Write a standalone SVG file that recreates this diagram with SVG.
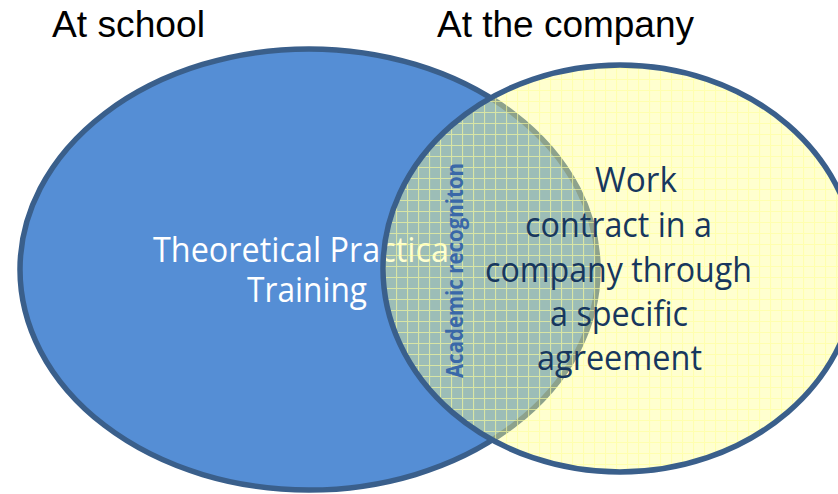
<svg xmlns="http://www.w3.org/2000/svg" width="838" height="494" viewBox="0 0 838 494">
  <defs>
    <pattern id="smallGrid" width="11" height="11" patternUnits="userSpaceOnUse" x="0" y="2">
      <rect width="11" height="11" fill="#FFFF8C" fill-opacity="0.42"/>
      <path d="M0 0.5 H11 M0.5 0 V11" stroke="#FFFF99" stroke-opacity="0.6" stroke-width="1.2" fill="none"/>
    </pattern>
  </defs>
  <style>
    .title { font-family: "Liberation Sans", Arial, sans-serif; font-size: 37px; fill: #000000; }
    .body { font-family: "Open Sans", "Noto Sans", sans-serif; font-size: 34px; }
    .ring { stroke: #3A5F8B; stroke-width: 5.5; }
  </style>
  <rect width="838" height="494" fill="#FFFFFF"/>

  <g id="labels">
    <text class="title" x="52" y="37" textLength="153" lengthAdjust="spacingAndGlyphs">At school</text>
    <text class="title" x="437" y="37" textLength="257" lengthAdjust="spacingAndGlyphs">At the company</text>
  </g>

  <g id="school">
    <ellipse class="ring" cx="309" cy="269.5" rx="289" ry="220.5" fill="#558ED5"/>
    <text class="body" fill="#FFFFFF" x="153" y="262" textLength="296" lengthAdjust="spacingAndGlyphs">Theoretical Practica</text>
    <text class="body" fill="#FFFFFF" x="247" y="302" textLength="120" lengthAdjust="spacingAndGlyphs">Training</text>
  </g>

  <g id="company">
    <ellipse class="ring" cx="620" cy="268.5" rx="237" ry="203.5" fill="url(#smallGrid)"/>
    <g fill="#17375E" class="body">
      <text x="595" y="192" textLength="82" lengthAdjust="spacingAndGlyphs">Work</text>
      <text x="525" y="237" textLength="187" lengthAdjust="spacingAndGlyphs">contract in a</text>
      <text x="485" y="282" textLength="267" lengthAdjust="spacingAndGlyphs">company through</text>
      <text x="550" y="326" textLength="138" lengthAdjust="spacingAndGlyphs">a specific</text>
      <text x="537" y="370" textLength="165" lengthAdjust="spacingAndGlyphs">agreement</text>
    </g>
  </g>

  <g id="overlap">
    <text transform="translate(463 378) rotate(-90)" font-family="Open Sans, Noto Sans, sans-serif" font-weight="bold" font-size="23" fill="#3A68A8" textLength="215" lengthAdjust="spacingAndGlyphs">Academic recogniton</text>
  </g>
</svg>
